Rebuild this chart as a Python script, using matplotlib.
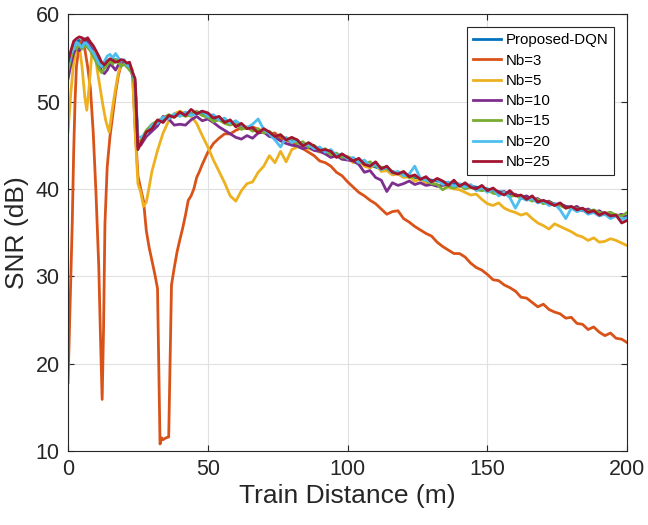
import matplotlib
matplotlib.use("Agg")
import matplotlib.pyplot as plt

plt.rcParams['font.family'] = ['Liberation Sans', 'DejaVu Sans']

# ---------------- data ----------------
# shared distance grid for the close-together curves
x_group = list(range(0, 26)) + list(range(26, 201, 2))

dqn = [53.0, 55.0, 56.3, 56.8, 57.0, 56.8, 56.6, 56.8, 56.3, 55.8, 55.2, 54.6, 54.0, 54.0, 54.4, 54.8,
       54.8, 54.8, 54.6, 54.5, 54.5, 54.2, 54.0, 53.3, 52.0, 44.8,
       45.4, 46.3, 47.0, 47.6, 47.9, 48.3, 48.4, 48.5, 48.6, 48.6, 48.7, 48.5, 48.4, 48.1, 48.0, 47.7,
       47.6, 47.3, 47.2, 47.0, 46.9, 46.7, 46.5, 46.3, 46.1, 45.9, 45.7, 45.5, 45.3, 45.1, 44.9, 44.7,
       44.5, 44.3, 44.1, 43.9, 43.7, 43.5, 43.3, 43.1, 42.9, 42.7, 42.5, 42.3, 42.2, 42.0, 41.8, 41.6,
       41.5, 41.3, 41.2, 41.1, 41.0, 40.9, 40.8, 40.7, 40.6, 40.5, 40.4, 40.3, 40.2, 40.1, 40.0, 39.8,
       39.7, 39.6, 39.4, 39.3, 39.1, 39.0, 38.8, 38.7, 38.5, 38.4, 38.3, 38.1, 38.0, 37.9, 37.8, 37.7,
       37.6, 37.4, 37.3, 37.2, 37.1, 37.0, 36.9, 36.8]

nb10 = [52.6, 54.2, 55.5, 56.2, 55.8, 56.5, 57.2, 57.0, 56.2, 55.6, 55.0, 54.3, 53.5, 53.2, 53.6, 54.3,
        54.0, 53.6, 54.2, 54.6, 54.4, 54.0, 54.2, 53.0, 52.0, 44.8,
        45.0, 46.0, 46.6, 47.2, 48.3, 48.0, 47.3, 47.4, 47.3, 47.9, 48.3, 47.8, 48.0, 47.6, 47.1, 46.7,
        46.3, 45.9, 45.7, 46.1, 45.8, 46.4, 46.5, 46.0, 45.9, 45.5, 45.2, 45.0, 44.9, 44.6, 44.8, 44.4,
        44.3, 44.0, 43.6, 43.8, 43.4, 43.3, 43.2, 42.8, 41.9, 42.1, 41.3, 41.0, 39.7, 40.7, 40.4, 40.6,
        40.9, 40.5, 40.7, 40.4, 40.5, 40.3, 40.4, 40.6, 40.3, 40.5, 40.2, 40.4, 40.0, 40.2, 39.8, 39.9,
        39.5, 39.7, 39.3, 39.4, 39.0, 39.2, 38.8, 38.9, 38.4, 38.6, 38.2, 38.3, 38.0, 37.8, 38.0, 37.5,
        37.7, 37.3, 37.5, 37.1, 37.3, 36.9, 37.1, 36.8]

nb15 = [53.5, 55.0, 56.2, 56.0, 56.6, 56.0, 56.4, 56.2, 55.8, 55.2, 54.6, 53.8, 53.3, 53.8, 54.2, 54.6,
        54.3, 54.8, 54.5, 54.0, 54.3, 54.0, 53.6, 53.2, 51.5, 45.0,
        45.6, 46.7, 47.4, 47.8, 48.1, 48.5, 48.2, 48.6, 48.3, 48.5, 48.9, 48.4, 48.2, 47.7, 47.9, 47.5,
        47.3, 47.6, 46.8, 47.1, 46.6, 46.9, 46.4, 46.6, 46.0, 46.2, 45.6, 45.8, 45.2, 45.4, 44.8, 45.0,
        44.4, 44.6, 43.9, 44.1, 43.6,
        43.7, 43.4, 43.3, 42.8, 43.1, 42.6, 42.5, 42.3, 41.9, 41.8,
        41.7, 41.3, 41.5, 41.1, 41.0, 40.6, 40.5, 39.9, 40.3, 40.1,
        40.4, 40.0, 40.2, 39.9, 39.8, 39.9, 39.5, 39.4, 39.6, 39.1,
        39.3, 38.9, 38.9, 38.6, 38.8, 38.3, 38.5, 38.1, 38.1, 37.8,
        37.9, 37.7, 37.7, 37.4, 37.6, 37.3, 37.2, 37.3, 37.0, 36.9,
        37.3]

nb20 = [54.0, 55.5, 56.0, 56.8, 56.5, 56.2, 56.8, 56.5, 56.0, 55.6, 55.0, 54.4, 54.0, 54.6, 55.2, 55.4,
        55.0, 55.5, 55.0, 54.6, 54.8, 54.2, 54.0, 53.5, 52.2, 46.0,
        45.9, 46.3, 47.3, 47.5, 48.2, 48.0, 48.6, 48.3, 48.8, 48.4, 48.6, 48.9, 48.3, 48.5, 47.9, 48.1,
        47.5, 47.8, 47.3, 47.0, 47.4, 48.0, 46.8, 46.3, 45.6, 44.8, 45.9, 45.3, 45.6, 44.9, 45.1, 44.6,
        44.8, 44.2, 44.5, 43.8, 44.0, 43.4, 43.6, 43.0, 43.3, 42.6, 42.8, 42.2, 42.5, 41.8, 42.0, 41.5,
        41.7, 42.6, 41.2, 41.0, 40.8, 41.1, 40.5, 40.8, 40.3, 40.6, 40.2, 40.5, 39.8, 40.2, 39.6, 40.0,
        39.2, 39.6, 39.0, 37.8, 39.0, 38.7, 38.9, 38.4, 38.6, 38.1, 38.3, 37.6, 36.6, 37.8, 37.4, 37.6,
        37.1, 37.3, 36.9, 37.1, 36.6, 36.9, 36.5, 36.7]

nb25 = [54.5, 55.8, 56.9, 57.2, 57.4, 57.3, 57.0, 57.3, 56.8, 56.4, 55.8, 55.2, 54.5, 54.2, 54.6, 54.9,
        54.7, 54.5, 54.6, 54.8, 54.7, 54.4, 54.5, 53.4, 52.6, 44.5,
        45.2, 46.5, 46.9, 47.9, 47.6, 48.4, 48.2, 48.8, 48.4, 49.1, 48.6, 48.9, 48.7, 48.1, 48.3, 47.6,
        47.9,
        47.1, 47.5, 46.9, 47.0, 46.4, 46.9, 46.5, 46.0, 46.2, 45.6,
        45.9, 45.6, 44.9, 45.3, 44.9, 44.4, 44.5, 44.3, 43.6, 44.0,
        43.6, 43.2, 43.5, 42.8, 42.6, 43.1, 42.3, 42.6, 41.9, 41.7,
        42.0, 41.4, 41.6, 41.1, 41.4, 40.8, 41.2, 40.9, 40.4, 41.0,
        40.3, 40.7, 40.2, 40.0, 40.4, 39.8, 40.1, 39.6, 39.3, 39.8,
        39.2, 39.3, 38.8, 39.2, 38.5, 38.7, 38.4, 38.1, 38.4, 37.8,
        38.0, 37.6, 37.8, 37.3, 37.5, 37.0, 37.3, 36.9, 37.0, 36.1,
        36.4]

x_nb5 = [0, 1, 2, 3, 4, 5, 6, 6.7, 7.5, 8.5, 9.5, 10.5, 11.5, 12.5, 13.5, 14.7, 16, 17, 18, 19, 20, 21,
         22, 23, 24, 25, 26, 27, 28, 29] + list(range(30, 201, 2))
nb5 = [46.5, 51.0, 54.5, 56.0, 56.5, 54.0, 50.5, 49.0, 51.5, 55.5, 55.8, 53.5, 51.5, 49.5, 47.8, 46.5,
       49.5, 51.5, 53.3, 54.2, 54.5, 54.3, 54.0, 53.5, 46.5, 40.6, 39.6, 38.0, 38.5, 40.2,
       42.0, 44.4, 46.4, 47.8, 48.6, 48.9, 48.6, 48.3, 47.5, 46.1, 44.8, 43.3, 42.0, 40.7, 39.2, 38.6,
       39.8, 40.6, 40.8, 41.9, 42.6, 43.8, 43.0, 44.3, 43.1, 44.5, 44.8, 44.9, 44.6, 44.5, 44.2, 44.3,
       43.8, 43.9, 43.4, 43.5, 43.0, 43.1, 42.6, 42.4, 42.8, 42.0, 42.1, 41.6, 41.7, 41.3, 41.4, 40.9,
       41.1, 40.7, 40.8, 40.4, 40.5, 40.2, 40.0, 39.9, 39.6, 39.3, 39.4, 38.8, 38.3, 38.1, 38.4, 37.8,
       37.5, 37.3, 37.0, 37.2, 36.6, 36.1, 35.8, 35.4, 36.0, 35.7, 35.4, 35.1, 34.7, 34.5, 34.1, 34.4,
       33.9, 34.0, 34.3, 34.1, 33.8, 33.5]

x_nb3 = [0, 0.5, 1, 1.5, 2, 2.5, 3, 4, 5, 6, 7, 8, 9, 10, 11, 11.6, 12.2, 12.7, 13.2, 14, 15, 16, 17,
         18, 19, 20, 21, 22, 23, 24, 25, 26, 27, 28, 29, 30, 31, 32, 32.9, 33.5, 34, 35, 36, 37, 38,
         39, 40, 41, 42, 43, 44, 45, 46, 47, 48, 49] + list(range(50, 201, 2))
nb3 = [17.8, 24.0, 30.5, 36.0, 44.0, 50.0, 54.0, 56.5, 57.0, 56.0, 54.0, 51.5, 46.5, 39.5, 31.0, 23.0,
       15.9, 24.0, 36.0, 42.5, 46.0, 48.5, 51.0, 53.0, 54.2, 54.6, 54.4, 54.2, 53.6, 47.0, 41.5, 40.0,
       38.6, 35.2, 33.3, 31.8, 30.3, 28.6, 10.8, 11.5, 11.3, 11.5, 11.6, 29.0, 31.0, 32.8, 34.2, 35.5,
       37.0, 38.7, 39.2, 40.0, 41.3, 42.0, 42.8, 43.5,
       44.2, 45.2, 45.8, 46.3, 46.3, 46.7, 47.0, 46.9, 47.1, 46.8, 46.5, 46.3, 46.4, 45.8, 45.6, 45.3,
       44.9, 44.6, 44.2, 43.8, 43.2, 43.0, 42.6, 41.9, 41.5, 40.8, 40.2, 39.6, 39.2, 38.7, 38.3, 37.7,
       37.1, 37.4, 37.5, 36.6, 36.2, 35.7, 35.3, 34.9, 34.6, 33.9, 33.4, 33.0, 32.6, 32.6, 32.2, 31.5,
       31.0, 30.7, 30.2, 29.6, 29.5, 29.0, 28.7, 28.3, 27.6, 27.5, 27.0, 26.5, 26.8, 26.2, 25.9, 25.7,
       25.2, 25.3, 24.6, 24.5, 23.9, 24.2, 23.6, 23.2, 23.5, 22.9, 22.8, 22.4]

labels = ['Proposed-DQN', 'Nb=3', 'Nb=5', 'Nb=10', 'Nb=15', 'Nb=20', 'Nb=25']
colors = ['#0072BD', '#D95319', '#EDB120', '#7E2F8E', '#77AC30', '#4DBEEE', '#A2142F']
xticks = [0, 50, 100, 150, 200]
yticks = [10, 20, 30, 40, 50, 60]

series = [(x_group, dqn), (x_nb3, nb3), (x_nb5, nb5), (x_group, nb10),
          (x_group, nb15), (x_group, nb20), (x_group, nb25)]

# ---------------- plot ----------------
fig = plt.figure(figsize=(6.48, 5.25), dpi=100)
ax = fig.add_axes([0.105, 0.141, 0.863, 0.832])

for (xs, ys), lab, col in zip(series, labels, colors):
    ax.plot(xs, ys, color=col, lw=2.0, label=lab)

ax.set_xlim(0, 200)
ax.set_ylim(10, 60)
ax.set_xticks(xticks)
ax.set_yticks(yticks)
ax.grid(True, color='#e0e0e0', lw=0.8)
ax.set_axisbelow(True)
ax.tick_params(direction='in', length=4, labelsize=15.5, colors='#262626',
               top=True, right=True, pad=6)
for s in ax.spines.values():
    s.set_color('#262626')
    s.set_linewidth(0.8)

ax.set_xlabel('Train Distance (m)', fontsize=19, color='#262626', labelpad=3)
ax.set_ylabel('SNR (dB)', fontsize=19, color='#262626', labelpad=5)

leg = ax.legend(loc='upper right', bbox_to_anchor=(0.977, 0.970), fontsize=10.8,
                fancybox=False, framealpha=1, edgecolor='#262626',
                handlelength=1.9, handletextpad=0.3, labelspacing=0.42,
                borderpad=0.4, borderaxespad=0)
leg.get_frame().set_linewidth(0.8)

fig.savefig('out.png', dpi=100)
